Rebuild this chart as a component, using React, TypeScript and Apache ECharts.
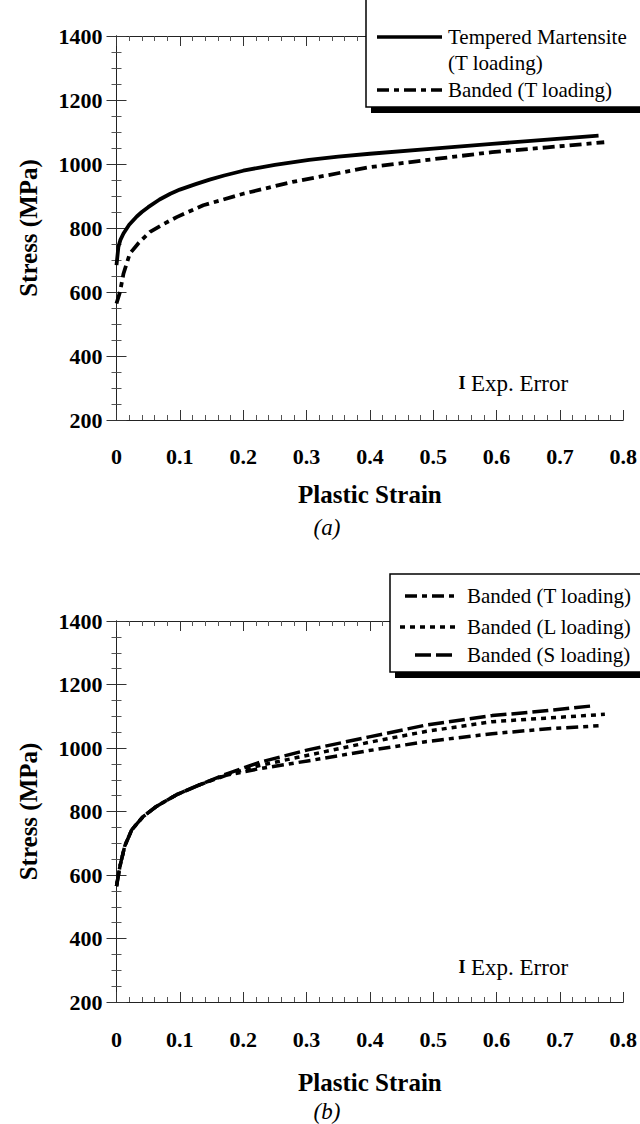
import React, { useEffect, useRef } from "react";
import * as echarts from "echarts";

// ---------- data ----------
// Panel (a)
const strainTM = [0, 0.003, 0.006, 0.011, 0.02, 0.032, 0.04, 0.05, 0.068, 0.085, 0.1, 0.125, 0.147, 0.17, 0.2, 0.226, 0.25, 0.304, 0.35, 0.4, 0.5, 0.593, 0.68, 0.761];
const stressTM = [684, 741, 762, 783, 810, 836, 850, 865, 889, 907, 920, 937, 951, 964, 979, 989, 997, 1013, 1023, 1032, 1048, 1063, 1076, 1089];

const strainBandA = [0, 0.0055, 0.011, 0.021, 0.034, 0.053, 0.075, 0.095, 0.137, 0.2, 0.278, 0.399, 0.5, 0.593, 0.68, 0.77];
const stressBandA = [564, 600, 657, 720, 751, 788, 813, 834, 871, 907, 944, 990, 1015, 1037, 1052, 1068];

// Panel (b)
const strainBT = [0, 0.0055, 0.013, 0.024, 0.042, 0.063, 0.095, 0.131, 0.173, 0.226, 0.304, 0.399, 0.488, 0.593, 0.677, 0.761];
const stressBT = [565, 628, 691, 742, 784, 816, 853, 884, 914, 935, 960, 992, 1020, 1045, 1060, 1070];

const strainBL = [0, 0.0055, 0.013, 0.024, 0.042, 0.063, 0.095, 0.131, 0.173, 0.226, 0.304, 0.399, 0.488, 0.593, 0.677, 0.771];
const stressBL = [565, 628, 691, 742, 784, 816, 853, 884, 916, 945, 978, 1018, 1052, 1083, 1094, 1106];

const strainBS = [0, 0.0055, 0.013, 0.024, 0.042, 0.063, 0.095, 0.131, 0.173, 0.226, 0.304, 0.399, 0.488, 0.593, 0.677, 0.753];
const stressBS = [565, 628, 691, 742, 784, 816, 853, 884, 918, 955, 995, 1035, 1072, 1102, 1117, 1133];

const xTickMin = 0;
const xTickMax = 0.8;
const xTickStep = 0.1;
const yTickMin = 200;
const yTickMax = 1400;
const yTickStep = 200;

const legendA = ["Tempered Martensite", "(T loading)", "Banded (T loading)"];
const legendB = ["Banded (T loading)", "Banded (L loading)", "Banded (S loading)"];
const xTitle = "Plastic Strain";
const yTitle = "Stress (MPa)";
const errorLabel = "Exp. Error";
const panelLabels = ["(a)", "(b)"];

// ---------- styles ----------
const SERIF = "Liberation Serif";
const DASHDOT = [12, 5, 5, 5];
const DOTTED = [5, 5];
const LONGDASH = [16, 5];

const pairs = (xs: number[], ys: number[]) => xs.map((x, i) => [x, ys[i]]);

function axesForGrid(gridIndex: number, labelMargin: number, nameGap: number) {
  const axisLine = { show: true, lineStyle: { color: "#222", width: 1 } };
  const tick = { show: true, inside: true, length: 10, lineStyle: { color: "#333", width: 1 } };
  const minor = { show: true, splitNumber: 5, length: 5, lineStyle: { color: "#555", width: 1 } };
  const minorY = { show: true, splitNumber: 4, length: 5, lineStyle: { color: "#555", width: 1 } };
  const label = { fontFamily: SERIF, fontWeight: "bold", fontSize: 22, color: "#000" };
  const titleStyle = { fontFamily: SERIF, fontWeight: "bold", fontSize: 25, color: "#000" };
  const x = [
    {
      type: "value", gridIndex, position: "bottom", min: xTickMin, max: xTickMax, interval: xTickStep,
      axisLine, axisTick: tick, minorTick: minor, splitLine: { show: false },
      axisLabel: { ...label, margin: labelMargin, formatter: (v: number) => String(Math.round(v * 10) / 10) },
      name: xTitle, nameLocation: "middle", nameGap, nameTextStyle: titleStyle,
    },
    {
      type: "value", gridIndex, position: "top", min: xTickMin, max: xTickMax, interval: xTickStep,
      axisLine, axisTick: tick, minorTick: minor, splitLine: { show: false }, axisLabel: { show: false },
    },
  ];
  const y = [
    {
      type: "value", gridIndex, position: "left", min: yTickMin, max: yTickMax, interval: yTickStep,
      axisLine, axisTick: tick, minorTick: minorY, splitLine: { show: false },
      axisLabel: { ...label, margin: 14, formatter: (v: number) => String(v) },
      name: yTitle, nameLocation: "middle", nameGap: 76, nameRotate: 90, nameTextStyle: titleStyle,
    },
    {
      type: "value", gridIndex, position: "right", min: yTickMin, max: yTickMax, interval: yTickStep,
      axisLine, axisTick: tick, minorTick: minorY, splitLine: { show: false }, axisLabel: { show: false },
    },
  ];
  return { x, y };
}

function lineSeries(name: string, data: number[][], xi: number, yi: number, dash: any, width: number) {
  return {
    type: "line", name, data, xAxisIndex: xi, yAxisIndex: yi,
    showSymbol: false, symbol: "none", smooth: false,
    lineStyle: { color: "#000", width, type: dash, cap: "butt", join: "round" },
    z: 5,
  };
}

function legendBox(x: number, y: number, w: number, h: number) {
  return [
    { type: "rect", z: 100, shape: { x: x + 5, y: y + 6, width: w, height: h }, style: { fill: "#000" } },
    { type: "rect", z: 101, shape: { x, y, width: w, height: h }, style: { fill: "#fff", stroke: "#000", lineWidth: 1.5 } },
  ];
}

function legendLine(x1: number, x2: number, y: number, dash: any, width: number) {
  return {
    type: "line", z: 102, shape: { x1, y1: y, x2, y2: y },
    style: { stroke: "#000", lineWidth: width, lineDash: dash === "solid" ? null : dash },
  };
}

function legendText(x: number, y: number, text: string) {
  return {
    type: "text", z: 102, x, y,
    style: { text, fill: "#000", font: `21px "${SERIF}"`, textVerticalAlign: "middle", textAlign: "left" },
  };
}

function errorMark(y: number) {
  return [
    { type: "text", z: 50, x: 462, y, style: { text: "I", fill: "#000", font: `bold 18px "${SERIF}"`, textAlign: "center", textVerticalAlign: "middle" } },
    { type: "text", z: 50, x: 471, y, style: { text: errorLabel, fill: "#000", font: `23px "${SERIF}"`, textVerticalAlign: "middle" } },
  ];
}

export default function App() {
  const ref = useRef<HTMLDivElement>(null);
  useEffect(() => {
    if (!ref.current) return;
    const chart = echarts.init(ref.current, undefined, { renderer: "svg" });
    const a = axesForGrid(0, 25, 62);
    const b = axesForGrid(1, 26, 68);

    const graphic: any[] = [
      ...legendBox(366, -20, 290, 127),
      legendLine(377, 442, 37, "solid", 3.5),
      legendText(448, 37, legendA[0]),
      legendText(448, 63, legendA[1]),
      legendLine(377, 442, 90, DASHDOT, 3.5),
      legendText(448, 90, legendA[2]),

      ...legendBox(390, 574, 270, 98),
      legendLine(405, 457, 596, DASHDOT, 3.5),
      legendText(467, 596, legendB[0]),
      legendLine(400, 457, 627, DOTTED, 3.5),
      legendText(467, 627, legendB[1]),
      legendLine(415, 457, 655, LONGDASH, 3.5),
      legendText(467, 655, legendB[2]),

      ...errorMark(383),
      ...errorMark(967),

      { type: "text", z: 50, x: 327, y: 527, style: { text: panelLabels[0], fill: "#000", font: `italic 23px "${SERIF}"`, textAlign: "center", textVerticalAlign: "middle" } },
      { type: "text", z: 50, x: 327, y: 1111, style: { text: panelLabels[1], fill: "#000", font: `italic 23px "${SERIF}"`, textAlign: "center", textVerticalAlign: "middle" } },
    ];

    chart.setOption({
      animation: false,
      backgroundColor: "#fff",
      grid: [
        { left: 116.5, top: 36, width: 508, height: 384 },
        { left: 116.5, top: 621, width: 508, height: 381 },
      ],
      xAxis: [...a.x, ...b.x],
      yAxis: [...a.y, ...b.y],
      series: [
        lineSeries("Tempered Martensite (T loading)", pairs(strainTM, stressTM), 0, 0, "solid", 3.8),
        lineSeries("Banded (T loading) a", pairs(strainBandA, stressBandA), 0, 0, DASHDOT, 3.8),
        lineSeries("Banded (T loading)", pairs(strainBT, stressBT), 2, 2, DASHDOT, 3.5),
        lineSeries("Banded (L loading)", pairs(strainBL, stressBL), 2, 2, DOTTED, 3.5),
        lineSeries("Banded (S loading)", pairs(strainBS, stressBS), 2, 2, LONGDASH, 3.5),
      ],
      graphic,
    });
    return () => chart.dispose();
  }, []);
  return <div ref={ref} style={{ position: "absolute", left: 0, top: 0, width: 640, height: 1124 }} />;
}
